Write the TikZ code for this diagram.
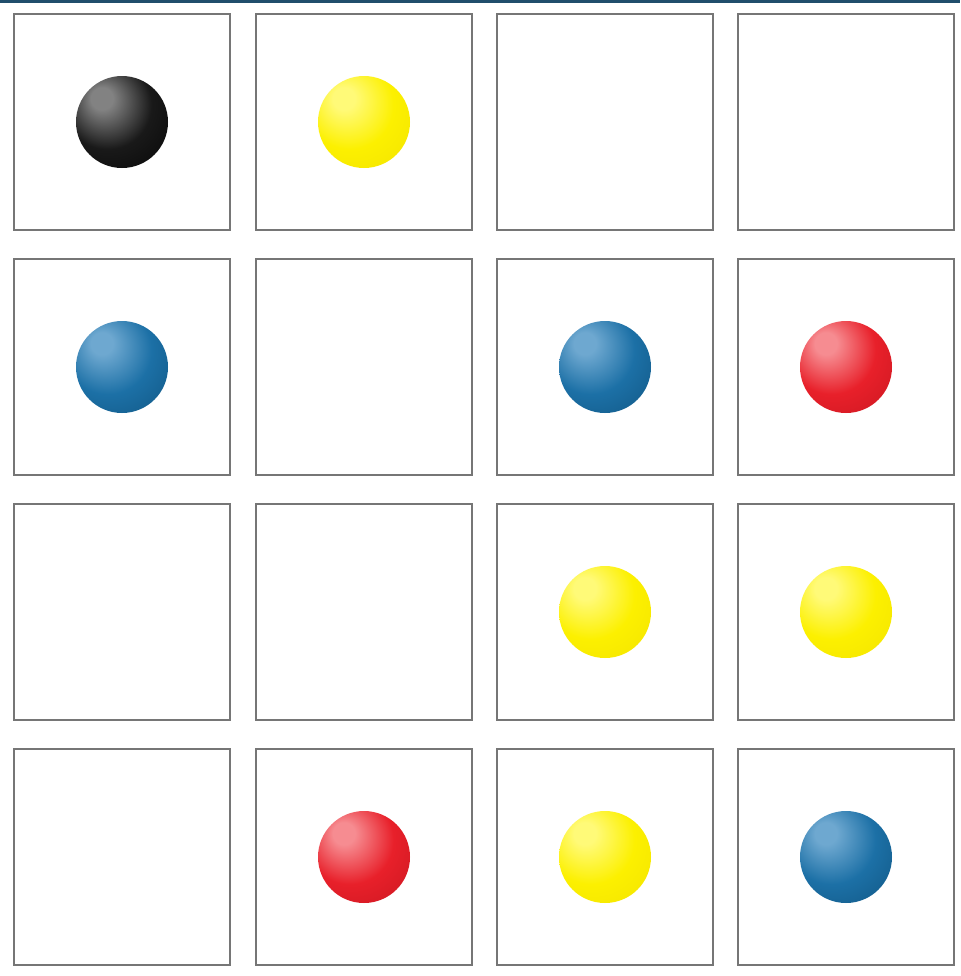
\documentclass[tikz,border=0pt]{standalone}
\definecolor{boxgray}{RGB}{118,118,118}
\definecolor{stripblue}{RGB}{32,78,108}
% marble colours: highlight, body, rim
\definecolor{ballblackhi}{RGB}{130,130,130}
\definecolor{ballblack}{RGB}{25,25,25}
\definecolor{ballblackedge}{RGB}{5,5,5}
\definecolor{ballbluehi}{RGB}{110,168,208}
\definecolor{ballblue}{RGB}{28,112,166}
\definecolor{ballblueedge}{RGB}{16,84,128}
\definecolor{ballredhi}{RGB}{246,140,145}
\definecolor{ballred}{RGB}{232,32,42}
\definecolor{ballrededge}{RGB}{200,22,32}
\definecolor{ballyellowhi}{RGB}{255,250,120}
\definecolor{ballyellow}{RGB}{252,240,0}
\definecolor{ballyellowedge}{RGB}{242,226,0}
\colorlet{ballhi}{white}
\colorlet{ballmid}{gray}
\colorlet{balledge}{black}
\pgfdeclareradialshading[ballhi,ballmid,balledge]{marbleshade}{\pgfpoint{-12bp}{14bp}}{%
    color(0bp)=(ballhi); color(6bp)=(ballhi); color(24bp)=(ballmid);
    color(46bp)=(balledge); color(70bp)=(balledge)}
\tikzset{
    cell/.style={draw=boxgray, line width=1.25pt, fill=white, minimum size=108pt, inner sep=0pt},
    marble/.style={circle, inner sep=0pt, minimum size=46pt,
        /utils/exec={\colorlet{ballhi}{#1hi}\colorlet{ballmid}{#1}\colorlet{balledge}{#1edge}},
        shading=marbleshade}
}
\begin{document}
\begin{tikzpicture}[x=0.5pt, y=-0.5pt]
    \useasboundingbox (0,0) rectangle (960,976);
    % thin band along the top edge
    \fill[stripblue] (0,0) rectangle (960,3);

    % the 4x4 grid of cells
    \foreach \r/\cy in {1/122, 2/367, 3/612, 4/857}
        \foreach \c/\cx in {1/122, 2/364, 3/605, 4/846}
            \node[cell] (cell-\r-\c) at (\cx,\cy) {};

    % marbles placed in their cells
    \foreach \r/\c/\col in {1/1/ballblack, 1/2/ballyellow,
                            2/1/ballblue, 2/3/ballblue, 2/4/ballred,
                            3/3/ballyellow, 3/4/ballyellow,
                            4/2/ballred, 4/3/ballyellow, 4/4/ballblue}
        \node[marble=\col] (ball-\r-\c) at (cell-\r-\c.center) {};
\end{tikzpicture}
\end{document}
